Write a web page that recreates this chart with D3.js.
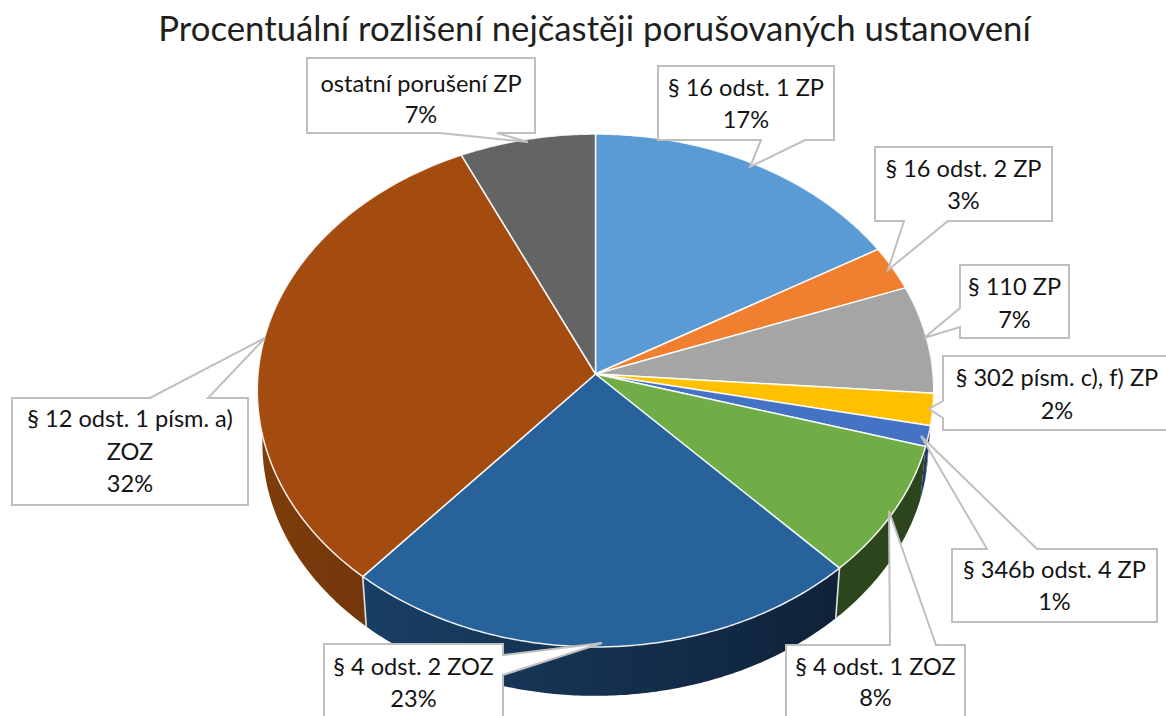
<!DOCTYPE html>
<html><head><meta charset="utf-8">
<style>html,body{margin:0;padding:0;background:#fff;overflow:hidden}svg{display:block}text{font-family:Lato,"Noto Sans",sans-serif}</style>
<script src="https://cdn.jsdelivr.net/npm/d3@7/dist/d3.min.js"></script>
</head><body><div id="c"></div>
<script>
const title = "Procentuální rozlišení nejčastěji porušovaných ustanovení";
const categories = ["§ 16 odst. 1 ZP","§ 16 odst. 2 ZP","§ 110 ZP","§ 302 písm. c), f) ZP","§ 346b odst. 4 ZP","§ 4 odst. 1 ZOZ","§ 4 odst. 2 ZOZ","§ 12 odst. 1 písm. a) ZOZ","ostatní porušení ZP"];
const values = [16.6,2.8,6.8,2.0,1.3,8.4,23.49,31.7,6.91];
const topColors = ["#5b9bd5","#f07f30","#a5a5a5","#ffc000","#4472c4","#70ad47","#27629a","#a44b10","#646464"];
const wallLeft  = ["#37608a","#8f4a1a","#636363","#997300","#1f3a70","#2d451c","#193f64","#7e3d0b","#3c3c3c"];
const wallRight = ["#37608a","#8f4a1a","#636363","#997300","#1f3a70","#2d451c","#0f2239","#69300a","#3c3c3c"];
// callout geometry: box [x0,y0,x1,y1], tail [base1, tip, base2], side of box carrying the tail
const callouts = [
 {box:[658,66,834,140],side:"bottom",b:[761,805],tip:[750,167],lines:[88,120]},
 {box:[875,147,1052,221],side:"bottom",b:[904,948],tip:[888,270],lines:[169,201]},
 {box:[960,265,1069,338],side:"left",b:[308,327],tip:[924,338],lines:[287,320]},
 {box:[943,356,1172,430],side:"left",b:[401,418],tip:[929,409],lines:[378,411]},
 {box:[952,549,1157,622],side:"top",b:[987,1037],tip:[921,436],lines:[570,602]},
 {box:[786,645,965,722],side:"top",b:[890,936],tip:[889,511],lines:[667,698]},
 {box:[324,644,503,722],side:"right",b:[655,675],tip:[602,643],lines:[667,699]},
 {box:[12,398,248,505],side:"top",b:[150,208],tip:[265,338],lines:[419,452,484]},
 {box:[307,58,535,133],side:"bottom",b:[440,497],tip:[528,142],lines:[84,115]}
];
const W=1166,H=716;
const cx=595.5,cy=374,Rx=337.5,Ry=255.4,p=0.0643;
const bottomScale=0.985,bottomCy=427;
const svg=d3.select("#c").append("svg").attr("width",W).attr("height",H);
const defs=svg.append("defs");
svg.append("text").attr("x",594.5).attr("y",41).attr("text-anchor","middle").attr("font-size",34.75).attr("fill","#1f1f1f").text(title);

const arcs=d3.pie().sort(null).value(d=>d)(values);
const proj=(t,k=1,c=cy)=>{const s=Math.sin(t),o=Math.cos(t),d=1+p*o;return [cx+k*Rx*s/d,c-k*Ry*o/d];};
const samples=a=>{const n=Math.max(4,Math.ceil((a.endAngle-a.startAngle)/0.01));return d3.range(n+1).map(i=>a.startAngle+(a.endAngle-a.startAngle)*i/n);};
const line=d3.line();
// side walls
const walls=svg.append("g");
arcs.forEach((a,i)=>{
  const g=defs.append("linearGradient").attr("id","w"+i);
  g.append("stop").attr("offset",0).attr("stop-color",wallLeft[i]);
  g.append("stop").attr("offset",1).attr("stop-color",wallRight[i]);
  const ts=samples(a);
  const pts=ts.map(t=>proj(t)).concat(ts.slice().reverse().map(t=>proj(t,bottomScale,bottomCy)));
  walls.append("path").attr("d",line(pts)+"Z").attr("fill",`url(#w${i})`);
});
// wall seams at the front
arcs.forEach(a=>{
  const t=a.startAngle;
  if(Math.cos(t)<-0.3){walls.append("line").datum(t)
    .attr("x1",proj(t)[0]).attr("y1",proj(t)[1])
    .attr("x2",proj(t,bottomScale,bottomCy)[0]).attr("y2",proj(t,bottomScale,bottomCy)[1])
    .attr("stroke","#dfe3e6").attr("stroke-width",1.6);}
});
// top faces
const faces=svg.append("g");
arcs.forEach((a,i)=>{
  const pts=[[cx,cy]].concat(samples(a).map(t=>proj(t)));
  faces.append("path").attr("d",line(pts)+"Z").attr("fill",topColors[i]).attr("stroke","#fff").attr("stroke-opacity",.9).attr("stroke-width",1.5).attr("stroke-linejoin","round");
});
// callouts
const labels=svg.append("g");
arcs.forEach((a,i)=>{
  const c=callouts[i],[x0,y0,x1,y1]=c.box,[b1,b2]=c.b;
  let pts;
  if(c.side==="bottom") pts=[[x0,y0],[x1,y0],[x1,y1],[b2,y1],c.tip,[b1,y1],[x0,y1]];
  if(c.side==="top") pts=[[x0,y0],[b1,y0],c.tip,[b2,y0],[x1,y0],[x1,y1],[x0,y1]];
  if(c.side==="left") pts=[[x0,y0],[x1,y0],[x1,y1],[x0,y1],[x0,b2],c.tip,[x0,b1]];
  if(c.side==="right") pts=[[x0,y0],[x1,y0],[x1,b1],c.tip,[x1,b2],[x1,y1],[x0,y1]];
  labels.append("path").attr("d",line(pts)+"Z").attr("fill","#fff").attr("stroke","#bfbfbf").attr("stroke-width",2);
  const name=categories[i];
  const parts=c.lines.length===3?[name.slice(0,name.lastIndexOf(" ")),name.slice(name.lastIndexOf(" ")+1)]:[name];
  parts.push(Math.round(a.data)+"%");
  const mid=(x0+x1)/2 + (i===3?-0.5:0);
  parts.forEach((s,j)=>labels.append("text").attr("x",mid).attr("y",c.lines[j]).attr("dy","0.35em").attr("text-anchor","middle").attr("font-size",23.6).attr("fill","#141414").text(s));
});
</script></body></html>
